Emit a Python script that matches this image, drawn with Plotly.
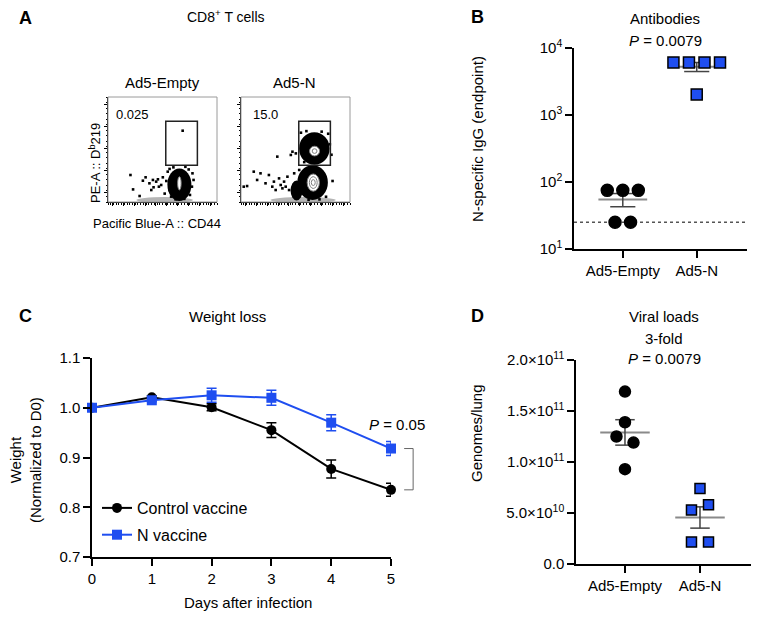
import numpy as np
import plotly.graph_objects as go

W, H = 768, 624
FONT = "Liberation Sans, Arial, Helvetica, sans-serif"
BLUE = "#1f4ef0"

# ---------------- Panel A: flow cytometry (display units 0-100) ----------------
flow_titles = ["Ad5-Empty", "Ad5-N"]
flow_gate_pct = ["0.025", "15.0"]
gate_x = [53, 82]
gate_y = [35, 77]
empty_events_x = [20.6, 23, 32, 34.5, 38, 39.7, 41.2, 41.8, 44.2, 45.8, 46.7, 48.8, 50.3, 29,
                  68.5, 54.8, 56.4, 77.5, 77, 75.2, 57.9, 53.5, 52, 78.5, 74, 56.5, 60, 71, 62, 70]
empty_events_y = [25.7, 12, 20.3, 23.5, 17.8, 11.4, 21, 14, 19.4, 21.6, 14.6, 16.2, 23.5, 5.7,
                  67.9, 28.9, 11.4, 27.3, 14.6, 6.7, 5.1, 20, 8, 21, 31, 31.5, 33, 33.5, 2.5, 3]
n_events_x = [2.5, 5.6, 11.7, 17.9, 14.8, 22.5, 25.6, 28.7, 30.2, 31.8, 33.3, 34.9, 36.4, 38,
              39.5, 41, 42.6, 44.1, 47.2, 45.7, 50.3, 48.8, 53.4, 51.9, 81.5, 83, 80, 55, 58, 78,
              84, 60, 74, 62, 72]
n_events_y = [14.6, 15.2, 28.9, 27.3, 21, 17.8, 25.7, 14.6, 19.4, 11.4, 43.2, 22.5, 16.2, 13,
              19.4, 14.6, 24.1, 11.4, 47.9, 44.8, 46.3, 27.3, 30.5, 11.4, 55, 45, 65, 66, 38, 5,
              20, 67.5, 67, 2, 2.5]
# populations: centre x, centre y, half-width, half-height
empty_pops = [(65.5, 16.5, 11, 15.5)]
n_pops = [(67.3, 51, 14, 15.5), (65.7, 18.5, 14, 16.5), (51, 11, 5.5, 9.5)]
empty_rings = [(65.5, 17.8, 1.6, 6.3, "white")]
n_rings = [(67.5, 48.5, 4.6, 4.6, "white"), (67.5, 48.5, 2.2, 2.2, "none"),
           (66.3, 18.5, 5.6, 8.2, "white"), (66.3, 18.5, 3.6, 5.6, "none"), (66.3, 18.5, 1.8, 2.8, "none")]
empty_smear = (52, 1.8, 26, 3)
n_smear = (57, 1.8, 30, 3)

# ---------------- Panel B: antibodies ----------------
groups = ["Ad5-Empty", "Ad5-N"]
igg_empty = [75, 75, 75, 25, 25]
igg_n = [6075, 6075, 6075, 6075, 2025]
igg_lod = 25
p_b = "0.0079"

# ---------------- Panel C: weight loss ----------------
days = [0, 1, 2, 3, 4, 5]
ctrl_mean = [1.000, 1.021, 1.001, 0.955, 0.877, 0.835]
ctrl_sem = [0.000, 0.003, 0.007, 0.015, 0.018, 0.013]
nvac_mean = [1.000, 1.015, 1.025, 1.020, 0.970, 0.918]
nvac_sem = [0.000, 0.003, 0.014, 0.015, 0.016, 0.014]
p_c = "0.05"

# ---------------- Panel D: viral loads ----------------
vl_empty = [1.69e11, 1.39e11, 1.25e11, 1.19e11, 0.93e11]
vl_n = [0.74e11, 0.53e11, 0.58e11, 0.215e11, 0.215e11]
p_d = "0.0079"
d_ticks = [0, 5e10, 1e11, 1.5e11, 2e11]
d_ticktext = ["0.0", "5.0\u00d710<sup>10</sup>", "1.0\u00d710<sup>11</sup>",
              "1.5\u00d710<sup>11</sup>", "2.0\u00d710<sup>11</sup>"]

# subplot frames in pixels (left, right, top, bottom)
A1 = (108, 217, 97, 202)
A2 = (241, 350, 97, 202)
B = (574, 747, 48, 249)
C = (92, 391, 358, 557)
D = (576, 751, 360, 564)
C_xr = [0, 5]
C_yr = [0.7, 1.1]


def xd(f):
    return [f[0] / W, f[1] / W]


def yd(f):
    return [1 - f[3] / H, 1 - f[2] / H]


def swarm(values, tf, thresh, step):
    t = [tf(v) for v in values]
    order = sorted(range(len(values)), key=lambda i: -t[i])
    clusters = []
    for i in order:
        if clusters and abs(t[clusters[-1][-1]] - t[i]) < thresh:
            clusters[-1].append(i)
        else:
            clusters.append([i])
    off = [0.0] * len(values)
    for c in clusters:
        c = sorted(c)
        n = len(c)
        for k, i in enumerate(c):
            off[i] = (k - (n - 1) / 2) * step
    return off


fig = go.Figure()
shapes = []
annotations = []


def ann(text, x, y, size=15, xanchor="center", yanchor="middle", angle=0, bold=False):
    annotations.append(dict(text=f"<b>{text}</b>" if bold else text, x=x / W, y=1 - y / H,
                            xref="paper", yref="paper", xanchor=xanchor, yanchor=yanchor,
                            showarrow=False, textangle=angle,
                            font=dict(family=FONT, size=size, color="black")))


# ---- Panel A ----
for k, (ex, ey, pops, rings, smear, ax) in enumerate([
        (empty_events_x, empty_events_y, empty_pops, empty_rings, empty_smear, ""),
        (n_events_x, n_events_y, n_pops, n_rings, n_smear, "2")]):
    xr, yr = "x" + ax, "y" + ax
    cx, cy, sx, sy = smear
    shapes.append(dict(type="circle", xref=xr, yref=yr, x0=cx - sx, x1=cx + sx, y0=cy - sy, y1=cy + sy,
                       fillcolor="#b5b5b5", line=dict(width=0), layer="below"))
    for (cx, cy, sx, sy) in pops:
        shapes.append(dict(type="circle", xref=xr, yref=yr, x0=cx - sx, x1=cx + sx, y0=cy - sy, y1=cy + sy,
                           fillcolor="black", line=dict(width=0)))
    for (cx, cy, sx, sy, fc) in rings:
        shapes.append(dict(type="circle", xref=xr, yref=yr, x0=cx - sx, x1=cx + sx, y0=cy - sy, y1=cy + sy,
                           fillcolor=None if fc == "none" else fc,
                           line=dict(width=1, color="#808080")))
    shapes.append(dict(type="rect", xref=xr, yref=yr, x0=gate_x[0], x1=gate_x[1], y0=gate_y[0], y1=gate_y[1],
                       line=dict(width=1.5, color="#222")))
    shapes.append(dict(type="rect", xref=xr + " domain", yref=yr + " domain", x0=0, x1=1, y0=0, y1=1,
                       line=dict(width=1, color="#9a9a9a")))
    fig.add_trace(go.Scatter(x=ex, y=ey, mode="markers", xaxis=xr, yaxis=yr, showlegend=False,
                             marker=dict(size=2.6, color="black", symbol="square")))

# ---- Panel B ----
b_step = 0.21
for gi, vals in enumerate([igg_empty, igg_n]):
    m = float(np.mean(vals))
    s = float(np.std(vals, ddof=1) / np.sqrt(len(vals)))
    fig.add_trace(go.Scatter(x=[gi - 0.33, gi + 0.33], y=[m, m], mode="lines", xaxis="x3", yaxis="y3",
                             line=dict(color="#8a8a8a", width=2), showlegend=False))
    fig.add_trace(go.Scatter(x=[gi - 0.17, gi + 0.17, None, gi, gi, None, gi - 0.17, gi + 0.17],
                             y=[m + s, m + s, None, m + s, m - s, None, m - s, m - s], mode="lines",
                             xaxis="x3", yaxis="y3", line=dict(color="#444", width=1.5), showlegend=False))
b_xr = [-0.66, 1.68]
fig.add_trace(go.Scatter(x=b_xr, y=[igg_lod, igg_lod], mode="lines", xaxis="x3", yaxis="y3",
                         line=dict(color="#555", width=1.5, dash="dot"), showlegend=False))
for gi, (vals, sym, col, sz) in enumerate([(igg_empty, "circle", "black", 12), (igg_n, "square", BLUE, 11)]):
    off = swarm(vals, np.log10, 0.15, b_step)
    fig.add_trace(go.Scatter(x=[gi + o for o in off], y=vals, mode="markers", xaxis="x3", yaxis="y3",
                             cliponaxis=False, showlegend=False,
                             marker=dict(symbol=sym, size=sz, color=col, line=dict(color="black", width=1.5))))

# ---- Panel C ----
for name, mean, sem, col, sym, sz, grp in [("Control vaccine", ctrl_mean, ctrl_sem, "black", "circle", 10, "a"),
                                           ("N vaccine", nvac_mean, nvac_sem, BLUE, "square", 10, "b")]:
    fig.add_trace(go.Scatter(x=days, y=mean, name=name, mode="lines+markers", xaxis="x4", yaxis="y4",
                             legendgroup=grp, cliponaxis=False,
                             line=dict(color=col, width=2), marker=dict(symbol=sym, size=sz, color=col),
                             error_y=dict(type="data", array=sem, color=col, thickness=1.5, width=5)))


def c_paper(xv, yv):
    px = C[0] + (xv - C_xr[0]) / (C_xr[1] - C_xr[0]) * (C[1] - C[0])
    py = C[3] - (yv - C_yr[0]) / (C_yr[1] - C_yr[0]) * (C[3] - C[2])
    return px / W, 1 - py / H


bx0 = days[-1] + 0.22
bx1 = days[-1] + 0.37
for yv in (ctrl_mean[-1], nvac_mean[-1]):
    (x0, y0), (x1, y1) = c_paper(bx0, yv), c_paper(bx1, yv)
    shapes.append(dict(type="line", xref="paper", yref="paper", x0=x0, x1=x1, y0=y0, y1=y1,
                       line=dict(color="#666", width=1)))
(x0, y0), (x1, y1) = c_paper(bx1, ctrl_mean[-1]), c_paper(bx1, nvac_mean[-1])
shapes.append(dict(type="line", xref="paper", yref="paper", x0=x0, x1=x1, y0=y0, y1=y1,
                   line=dict(color="#666", width=1)))
px_, py_ = c_paper(days[-1] + 0.1, nvac_mean[-1] + 0.049)
annotations.append(dict(text=f"<i>P</i> = {p_c}", x=px_, y=py_, xref="paper", yref="paper",
                        showarrow=False, xanchor="center", yanchor="middle",
                        font=dict(family=FONT, size=15, color="black")))

# ---- Panel D ----
d_step = 0.227
for gi, vals in enumerate([vl_empty, vl_n]):
    m = float(np.mean(vals))
    s = float(np.std(vals, ddof=1) / np.sqrt(len(vals)))
    fig.add_trace(go.Scatter(x=[gi - 0.33, gi + 0.33], y=[m, m], mode="lines", xaxis="x5", yaxis="y5",
                             line=dict(color="#8a8a8a", width=2), showlegend=False))
    fig.add_trace(go.Scatter(x=[gi - 0.13, gi + 0.13, None, gi, gi, None, gi - 0.13, gi + 0.13],
                             y=[m + s, m + s, None, m + s, m - s, None, m - s, m - s], mode="lines",
                             xaxis="x5", yaxis="y5", line=dict(color="#444", width=1.5), showlegend=False))
for gi, (vals, sym, col, sz) in enumerate([(vl_empty, "circle", "black", 11), (vl_n, "square", BLUE, 10)]):
    off = swarm(vals, lambda v: v, 0.1e11, d_step)
    fig.add_trace(go.Scatter(x=[gi + o for o in off], y=vals, mode="markers", xaxis="x5", yaxis="y5",
                             cliponaxis=False, showlegend=False,
                             marker=dict(symbol=sym, size=sz, color=col, line=dict(color="black", width=1.5))))

# ---- Text ----
ann("A", 25, 18, size=18, bold=True)
ann("B", 477, 17, size=18, bold=True)
ann("C", 25, 316, size=18, bold=True)
ann("D", 477, 316, size=18, bold=True)

ann("CD8<sup>+</sup> T cells", 226, 16, size=14)
ann(flow_titles[0], 162, 83, size=15)
ann(flow_titles[1], 294, 83, size=15)
ann(flow_gate_pct[0], 114, 114, size=13, xanchor="left")
ann(flow_gate_pct[1], 251, 114, size=13, xanchor="left")
ann("PE-A :: D<sup>b</sup>219", 95, 163, size=13, angle=-90)
ann("Pacific Blue-A :: CD44", 91, 223, size=13, xanchor="left")

ann("Antibodies", 665, 18, size=15)
ann(f"<i>P</i> = {p_b}", 665, 41, size=15)
ann("N-specific IgG (endpoint)", 477, 139, size=15, angle=-90)

ann("Weight loss", 227, 316, size=15)
ann("Weight<br>(Normalized to D0)", 25, 460, size=15, angle=-90)
ann("Days after infection", 248, 602, size=15)

ann("Viral loads", 664, 316, size=15)
ann("3-fold", 664, 338, size=15)
ann(f"<i>P</i> = {p_d}", 664, 358, size=15)
ann("Genomes/lung", 476, 433, size=15, angle=-90)

axis_common = dict(showline=True, linecolor="black", linewidth=1.5, ticks="outside", ticklen=7,
                   tickwidth=1.5, tickcolor="black", showgrid=False, zeroline=False, automargin=False,
                   tickfont=dict(family=FONT, size=15, color="black"))
flow_axis = dict(showline=True, linecolor="black", linewidth=1, ticks="outside", ticklen=3, tickwidth=1,
                 tickcolor="black", showgrid=False, zeroline=False, showticklabels=False, range=[0, 100],
                 fixedrange=True, automargin=False)

fig.update_layout(
    width=W, height=H, margin=dict(l=0, r=0, t=0, b=0, pad=0, autoexpand=False),
    paper_bgcolor="white", plot_bgcolor="white",
    font=dict(family=FONT, size=15, color="black"),
    shapes=shapes, annotations=annotations,
    legend=dict(x=97 / W, y=1 - 491 / H, xanchor="left", yanchor="top", bgcolor="rgba(0,0,0,0)",
                font=dict(family=FONT, size=16, color="black"), traceorder="grouped", tracegroupgap=3),
    xaxis=dict(domain=xd(A1), anchor="y", tick0=4, dtick=10, minor=dict(ticklen=1.5, dtick=2.5), **flow_axis),
    yaxis=dict(domain=yd(A1), anchor="x", tick0=9, dtick=21, minor=dict(ticklen=1.5, dtick=5.25), **flow_axis),
    xaxis2=dict(domain=xd(A2), anchor="y2", tick0=4, dtick=10, minor=dict(ticklen=1.5, dtick=2.5), **flow_axis),
    yaxis2=dict(domain=yd(A2), anchor="x2", tick0=9, dtick=21, minor=dict(ticklen=1.5, dtick=5.25), **flow_axis),
    xaxis3=dict(domain=xd(B), anchor="y3", range=b_xr, tickvals=[0, 1], ticktext=groups, **axis_common),
    yaxis3=dict(domain=yd(B), anchor="x3", type="log", range=[1, 4],
                tickvals=[10, 100, 1000, 10000],
                ticktext=["10<sup>1</sup>", "10<sup>2</sup>", "10<sup>3</sup>", "10<sup>4</sup>"], **axis_common),
    xaxis4=dict(domain=xd(C), anchor="y4", range=C_xr, tickvals=days, **axis_common),
    yaxis4=dict(domain=yd(C), anchor="x4", range=C_yr, tickvals=[0.7, 0.8, 0.9, 1.0, 1.1],
                tickformat=".1f", **axis_common),
    xaxis5=dict(domain=xd(D), anchor="y5", range=[-0.653, 1.68], tickvals=[0, 1], ticktext=groups, **axis_common),
    yaxis5=dict(domain=yd(D), anchor="x5", range=[0, 2e11], tickvals=d_ticks, ticktext=d_ticktext,
                **axis_common),
)

fig.write_html("out.html", config={"displayModeBar": False},
               post_script="document.body.style.margin='0px';document.body.style.overflow='hidden';")
